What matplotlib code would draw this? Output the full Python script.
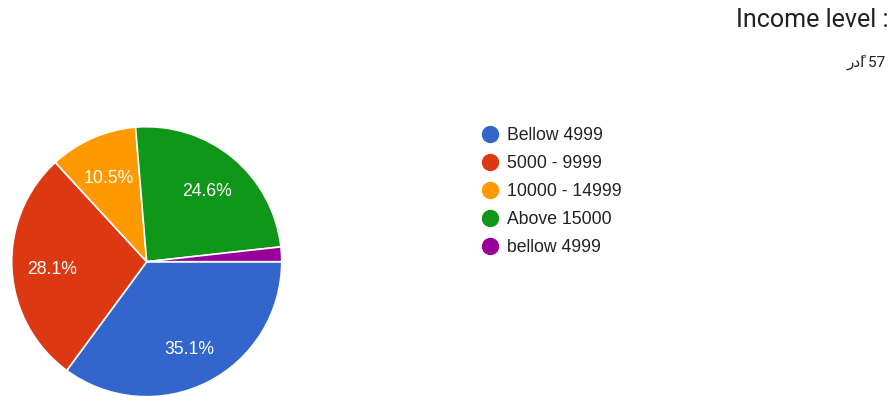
import matplotlib.pyplot as plt
from matplotlib.lines import Line2D
from matplotlib.transforms import offset_copy

# survey answers (57 responses)
labels = ["Bellow 4999", "5000 - 9999", "10000 - 14999", "Above 15000", "bellow 4999"]
counts = [20, 16, 6, 14, 1]
colors = ["#3366cc", "#dc3912", "#ff9900", "#109618", "#990099"]

title = "Income level :"
subtitle = "\u0631\u062f\u064b\u0627 57"

W, H = 890, 396
fig = plt.figure(figsize=(W / 100, H / 100), dpi=100)
fig.patch.set_facecolor("white")

# pie axes: centre at (146.7, 261.7) px from top-left, radius 135 px
cx, cy, r = 146.7, H - 261.7, 135
ax = fig.add_axes([(cx - r) / W, (cy - r) / H, 2 * r / W, 2 * r / H])


def pct(p):
    return f"{p:.1f}%" if p > 5 else ""


wedges, _, autotexts = ax.pie(
    counts, colors=colors, startangle=0, counterclock=False,
    autopct=pct, pctdistance=0.7, radius=1,
    wedgeprops=dict(edgecolor="white", linewidth=1.2),
    textprops=dict(color="white", fontsize=12.7, family="Liberation Sans"),
)
# nudge the percentages down a little
for t in autotexts:
    t.set_transform(offset_copy(t.get_transform(), fig=fig, y=-3, units="dots"))
ax.set_xlim(-1, 1)
ax.set_ylim(-1, 1)
ax.axis("off")

handles = [Line2D([], [], marker="o", linestyle="none", markersize=11.5,
                  markerfacecolor=c, markeredgecolor=c) for c in colors]
fig.legend(handles, labels, loc="upper left",
           bbox_to_anchor=(481 / W, 1 - 127 / H),
           frameon=False, borderpad=0, borderaxespad=0,
           handlelength=1.0, handletextpad=0.45, labelspacing=0.62,
           prop=dict(family="Liberation Sans", size=12.7), labelcolor="#222222")

fig.text(888 / W, 1 - 20 / H, title, ha="right", va="center",
         fontsize=18, family="Roboto", color="#202124")
fig.text(886 / W, 1 - 62 / H, subtitle, ha="right", va="center",
         fontsize=11, family=["Roboto", "DejaVu Sans"], color="#202124")

fig.savefig("out.png", dpi=100)
